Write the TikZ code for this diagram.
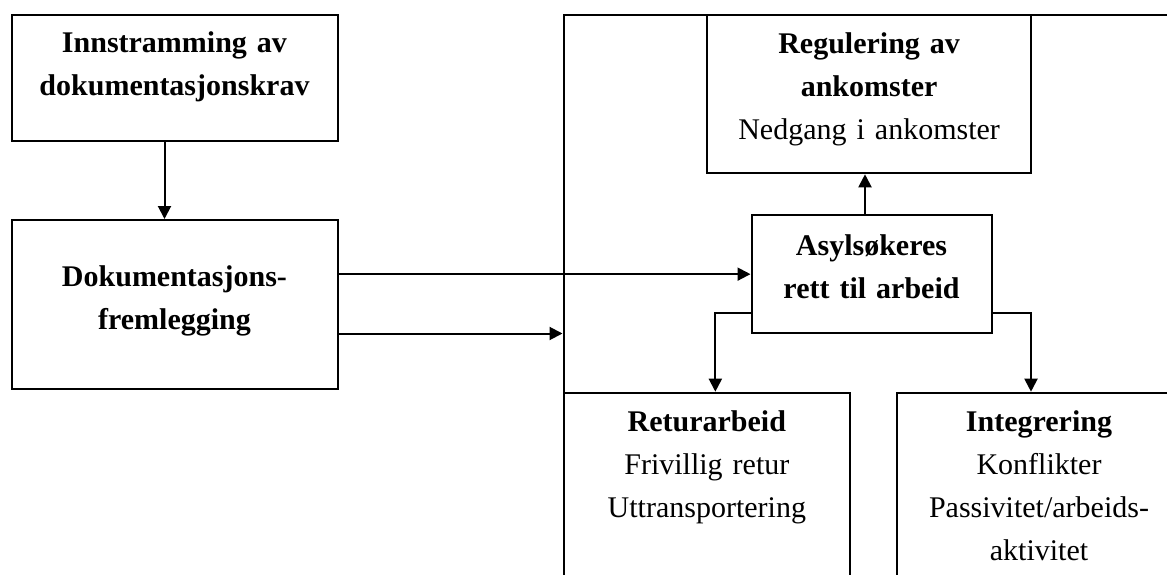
\documentclass[tikz,border=0pt]{standalone}
\usepackage{fontspec}
\setmainfont{Liberation Serif}
\usetikzlibrary{positioning,arrows.meta}
\tikzset{
>={Triangle[length=13pt,width=13pt]},
boks/.style={draw, rectangle, inner sep=0pt, align=center},
}

\begin{document}
\begin{tikzpicture}
    [x=1pt, y=-1pt, line width=2pt, font=\fontsize{30}{43}\selectfont]
    \useasboundingbox (0,0) rectangle (1167,575);
    \clip (0,0) rectangle (1167,575);

    %left
    \node[boks, text width=326pt, text height=37.5pt, text depth=88.2pt] (innstr) at (174.5,77.85)
        {\textbf{Innstramming av}\\\textbf{dokumentasjonskrav}};
    \node[boks, below of=innstr, node distance=226.65pt, text width=326pt, text height=66.7pt, text depth=102.3pt] (dokfrem)
        {\textbf{Dokumentasjons-}\\\textbf{fremlegging}};

    %right
    \node[boks, minimum width=686.5pt, minimum height=685pt] (ramme) at (906.75,357.5) {};
    \node[boks, text width=323.5pt, text height=38.3pt, text depth=120pt] (regul) at (869.1,94.15)
        {\textbf{Regulering av}\\\textbf{ankomster}\\Nedgang i ankomster};
    \node[boks, text width=240pt, text height=40pt, text depth=78.3pt] (asyl) at (871.5,274.15)
        {\textbf{Asylsøkeres}\\\textbf{rett til arbeid}};
    \node[boks, text width=286.1pt, text height=39pt, text depth=188.3pt] (retur) at (706.85,506.35)
        {\textbf{Returarbeid}\\Frivillig retur\\Uttransportering};
    \node[boks, text width=284pt, text height=39pt, text depth=188.3pt] (integ) at (1039,506.35)
        {\textbf{Integrering}\\Konflikter\\Passivitet/arbeids-\\aktivitet};

    \coordinate (a1) at ([xshift=-10pt]innstr.south);
    \coordinate (a2) at ([yshift=-29pt]dokfrem.east);
    \coordinate (a3) at ([xshift=-6.5pt]asyl.north);

    \draw[->] (a1) -- (a1 |- dokfrem.north);
    \draw[->] (dokfrem.east |- asyl.west) -- (asyl.west);
    \draw[->] (a2) -- (a2 -| ramme.west);
    \draw[->] (a3) -- (a3 |- regul.south);
    \draw[->] ([yshift=-39pt]asyl.west) -| ([xshift=8.5pt]retur.north);
    \draw[->] ([yshift=-39pt]asyl.east) -| ([xshift=-8pt]integ.north);

\end{tikzpicture}
\end{document}
